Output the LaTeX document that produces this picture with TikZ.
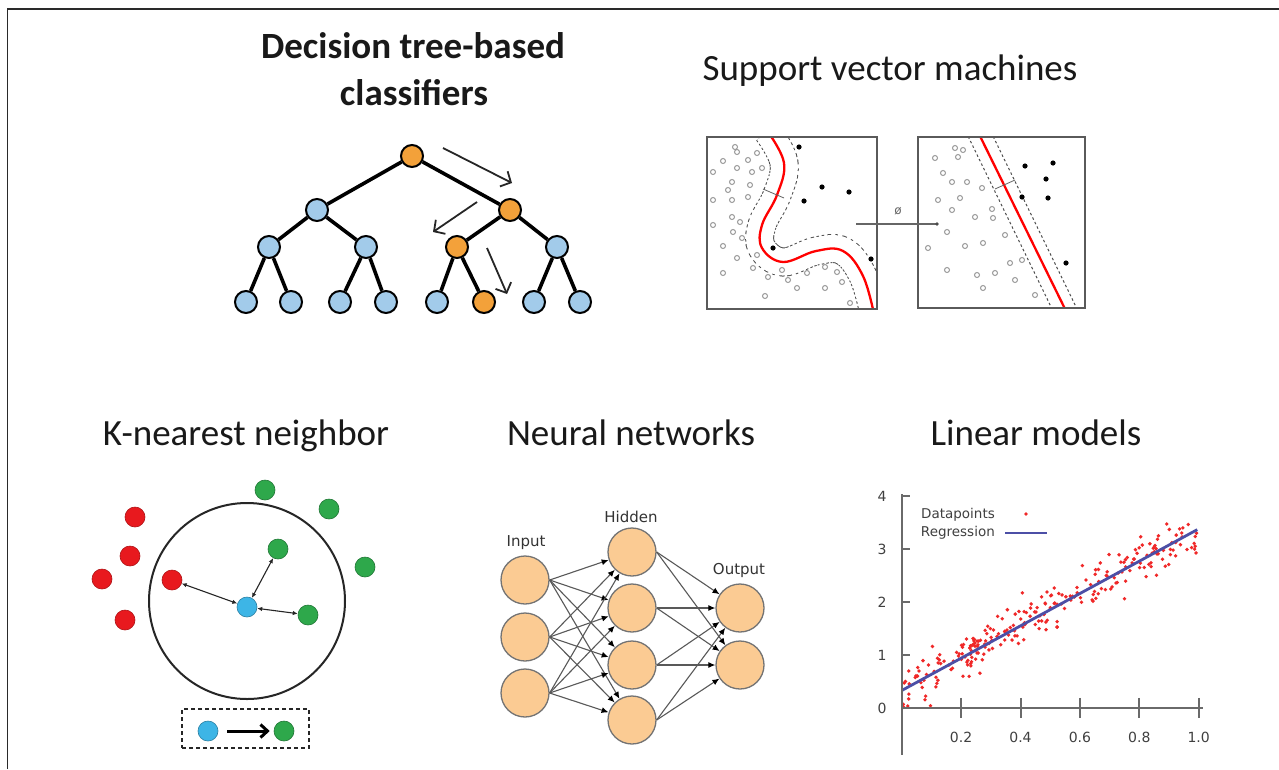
\documentclass[tikz,border=0pt]{standalone}
\usepackage{fontspec}
\setmainfont{Carlito}
\newfontfamily\dejavu{DejaVu Sans}
\usetikzlibrary{arrows.meta}
\definecolor{tOrange}{HTML}{F3A13A}
\definecolor{tBlue}{HTML}{A2CBEA}
\definecolor{kRed}{HTML}{E8191E}
\definecolor{kGreen}{HTML}{2EA84B}
\definecolor{kBlue}{HTML}{3DB5E6}
\definecolor{nnFill}{HTML}{FBCB93}
\definecolor{regBlue}{HTML}{4C4FA6}
\definecolor{axGray}{HTML}{6A6A6A}
\definecolor{svmGray}{HTML}{5A5A5A}
\definecolor{frameGray}{HTML}{2A2A2A}
\definecolor{ptRed}{HTML}{F02828}
\begin{document}
\begin{tikzpicture}[x=1pt,y=-1pt,
  title/.style={font=\fontsize{37}{44}\selectfont, anchor=base, inner sep=0pt, text=black!90},
  tnode/.style={circle, draw=black, line width=2pt, minimum size=22pt, inner sep=0pt},
  tor/.style={tnode, fill=tOrange},
  tbl/.style={tnode, fill=tBlue},
  tedge/.style={line width=3.6pt, black},
  tdir/.style={line width=1.8pt, black!85, -{Straight Barb[length=8pt,width=17pt]}},
  svmbox/.style={draw=svmGray, line width=1.8pt},
  svmpt/.style={draw=gray!80, line width=1pt},
  svmblk/.style={fill=black},
  kpt/.style={circle, minimum size=20pt, inner sep=0pt, line width=0.6pt},
  kred/.style={kpt, fill=kRed, draw=kRed!75!black},
  kgreen/.style={kpt, fill=kGreen, draw=kGreen!70!black},
  kblue/.style={kpt, fill=kBlue, draw=kBlue!70!black},
  kar/.style={line width=1.1pt, black!85, {Latex[length=5pt,width=4.5pt]}-{Latex[length=5pt,width=4.5pt]}},
  nn/.style={circle, minimum size=48pt, inner sep=0pt, fill=nnFill, draw=black!55, line width=1.3pt},
  nnedge/.style={line width=1.1pt, black!65, -{Latex[length=7pt,width=6pt,color=black]}},
  nnlab/.style={font=\dejavu\fontsize{15}{18}\selectfont, text=black!80, inner sep=0pt},
  axlab/.style={font=\dejavu\fontsize{14}{17}\selectfont, text=black!75, inner sep=0pt},
  leglab/.style={font=\dejavu\fontsize{13.5}{16}\selectfont, text=black!75, inner sep=0pt, anchor=east}
]
\useasboundingbox (0,0) rectangle (1279,769);
\fill[white] (0,0) rectangle (1279,769);
% frame
\draw[frameGray, line width=1.5pt] (7.5,769) -- (7.5,9) -- (1279,9);

% ---------------- titles
\node[title, font=\bfseries\fontsize{37}{44}\selectfont] (t1a) at (413,58) {Decision tree-based};
\node[title, font=\bfseries\fontsize{37}{44}\selectfont] (t1b) at (414,105) {classifiers};
\node[title] (t2) at (890,80) {Support vector machines};
\node[title] (t3) at (246,445) {K-nearest neighbor};
\node[title] (t4) at (631,445) {Neural networks};
\node[title] (t5) at (1036,445) {Linear models};

% ---------------- decision tree
\node[tor] (r) at (412,156) {};
\node[tbl] (a) at (317,210) {};
\node[tor] (b) at (510,210) {};
\node[tbl] (c) at (269,247) {};
\node[tbl] (d) at (366,247) {};
\node[tor] (e) at (457,247) {};
\node[tbl] (f) at (557,247) {};
\node[tbl] (l1) at (246,302) {};
\node[tbl] (l2) at (291,302) {};
\node[tbl] (l3) at (340,302) {};
\node[tbl] (l4) at (386,302) {};
\node[tbl] (l5) at (437,302) {};
\node[tor] (l6) at (484,302) {};
\node[tbl] (l7) at (534,302) {};
\node[tbl] (l8) at (580,302) {};
\foreach \u/\v in {r/a,r/b,a/c,a/d,b/e,b/f,c/l1,c/l2,d/l3,d/l4,e/l5,e/l6,f/l7,f/l8}
  \draw[tedge] (\u) -- (\v);
\coordinate (da1) at (443,148); \coordinate (db1) at (512,183);
\coordinate (da2) at (477,202); \coordinate (db2) at (433,232);
\coordinate (da3) at (487,248); \coordinate (db3) at (507,294);
\draw[tdir] (da1) -- (db1);
\draw[tdir] (da2) -- (db2);
\draw[tdir] (da3) -- (db3);

% ---------------- SVM left box
\begin{scope}
\clip (707,137) rectangle (877,309);
\def\svmcurve{plot[smooth, tension=0.65] coordinates {(768,132) (784,163) (777,195) (762,225) (762,248) (783,262) (816,251) (843,251) (863,276) (874,314)}}
\draw[black!70, line width=29pt, dash pattern=on 2.5pt off 2.5pt] \svmcurve;
\draw[white, line width=27pt] \svmcurve;
\draw[red, line width=2.3pt] \svmcurve;
\foreach \p in {(737,152),(723,161),(748,160),(757,153),(713,172),(737,168),(752,172),(762,168),(732,182),(750,185),(728,190),(713,200),(732,200),(748,197),(732,217),(740,222),(713,225),(733,232),(742,238),(723,246),(737,258),(757,255),(723,273),(753,268),(768,277),(788,280),(782,270),(807,273),(825,267),(837,272),(842,282),(797,288),(825,288),(765,296),(850,303),(735,147)}
  \draw[svmpt] \p circle (2.5pt);
\foreach \p in {(799,147),(822,187),(849,192),(804,201),(773,248),(871,259)}
  \fill[svmblk] \p circle (2.6pt);
\draw[black!60, line width=0.8pt] (763,189) -- (784,198);
\end{scope}
\draw[svmbox] (707,137) rectangle (877,309);

% ---------------- SVM right box
\begin{scope}
\clip (918,137) rectangle (1085,308);
\draw[black!70, line width=1pt, dash pattern=on 2.5pt off 2.5pt] (966,132) -- (1054,313);
\draw[black!70, line width=1pt, dash pattern=on 2.5pt off 2.5pt] (991,132) -- (1079,313);
\draw[red, line width=2.3pt] (978,132) -- (1067,313);
\foreach \p in {(955,148),(963,150),(935,158),(958,157),(943,173),(952,182),(967,182),(982,188),(938,200),(960,198),(992,209),(952,210),(975,217),(993,218),(928,248),(947,232),(965,246),(983,243),(1005,235),(947,270),(977,275),(995,273),(1015,280),(1022,260),(983,288),(1010,263),(1035,295)}
  \draw[svmpt] \p circle (2.5pt);
\foreach \p in {(1025,166),(1053,163),(1046,179),(1022,197),(1048,198),(1066,263)}
  \fill[svmblk] \p circle (2.6pt);
\draw[black!60, line width=0.8pt] (995,189) -- (1015,180);
\end{scope}
\draw[svmbox] (918,137) rectangle (1085,308);
\coordinate (phis) at (856,224);
\coordinate (phie) at (937,224);
\draw[gray!80!black, line width=1.6pt] (phis) -- (phie);
\fill[black!70] (phie) circle (1.8pt);
\node[font=\dejavu\fontsize{12}{14}\selectfont, text=black!60, inner sep=0pt] (phi) at (898,211) {ø};

% ---------------- KNN
\node[circle, draw=black!85, line width=2pt, minimum size=196pt, inner sep=0pt] (kc) at (247,601) {};
\node[kblue] (q) at (247,607) {};
\node[kred] (r1) at (135,517) {};
\node[kred] (r2) at (130,556) {};
\node[kred] (r3) at (102,579) {};
\node[kred] (r4) at (172,580) {};
\node[kred] (r5) at (125,620) {};
\node[kgreen] (g1) at (265,490) {};
\node[kgreen] (g2) at (329,509) {};
\node[kgreen] (g3) at (278,549) {};
\node[kgreen] (g4) at (365,567) {};
\node[kgreen] (g5) at (308,615) {};
\draw[kar] (r4) -- (q);
\draw[kar] (g3) -- (q);
\draw[kar] (g5) -- (q);
\node[draw=black!85, line width=1.8pt, dash pattern=on 4pt off 3pt, minimum width=127pt, minimum height=39pt, inner sep=0pt] (kbox) at (245.5,728.5) {};
\node[kblue] (qb) at (208,731) {};
\node[kgreen] (gb) at (284,731) {};
\draw[line width=3pt, black, shorten <=9pt, shorten >=4pt, -{Straight Barb[length=7pt,width=13pt]}] (qb) -- (gb);

% ---------------- Neural network
\node[nn] (in1) at (525,580) {};
\node[nn] (in2) at (525,637) {};
\node[nn] (in3) at (525,693) {};
\node[nn] (h1) at (632,552) {};
\node[nn] (h2) at (632,608) {};
\node[nn] (h3) at (632,665) {};
\node[nn] (h4) at (632,720) {};
\node[nn] (o1) at (740,608) {};
\node[nn] (o2) at (740,665) {};
\foreach \i in {1,2,3} \foreach \j in {1,2,3,4} \draw[nnedge] (in\i.east) -- (h\j);
\foreach \j in {1,2,3,4} \foreach \k in {1,2} \draw[nnedge] (h\j.east) -- (o\k);
\node[nnlab] (linp) at (526,543) {Input};
\node[nnlab] (lhid) at (631,517) {Hidden};
\node[nnlab] (lout) at (739,570) {Output};

% ---------------- Linear models
\begin{scope}[shift={(901.7pt,-708pt)}, x=297pt, y=53pt]
\pgfmathsetseed{1234}
\foreach \i in {1,...,260} {
  \pgfmathsetmacro\xx{0.005+0.99*rnd}
  \pgfmathsetmacro\yy{0.33+3.05*\xx+0.21*(rand+rand+rand)}
  \fill[ptRed] (\xx,\yy) circle (1.9pt);
}
\draw[regBlue, line width=2.8pt] (0,0.33) -- (0.995,3.365);
\draw[axGray, line width=2pt] (0,4.03) -- (0,-0.89);
\draw[axGray, line width=2pt] (0,0) -- (1.015,0);
\foreach \v in {0,1,2,3,4} {
  \draw[axGray, line width=2pt] (0,\v) -- (0.028,\v);
  \node[axlab] (yl\v) at (-0.066,\v) {\v};
}
\foreach \v in {0.2,0.4,0.6,0.8,1.0} {
  \draw[axGray, line width=2pt] (\v,0.19) -- (\v,-0.19);
  \node[axlab] (xl\v) at (\v,-0.547) {\v};
}
\end{scope}
\node[leglab] (ldat) at (995,515) {Datapoints};
\fill[ptRed] (1026,514) circle (1.9pt);
\node[leglab] (lreg) at (995,533) {Regression};
\coordinate (rls) at (1005,533);
\coordinate (rle) at (1047,533);
\draw[regBlue, line width=2.8pt] (rls) -- (rle);
\end{tikzpicture}
\end{document}
